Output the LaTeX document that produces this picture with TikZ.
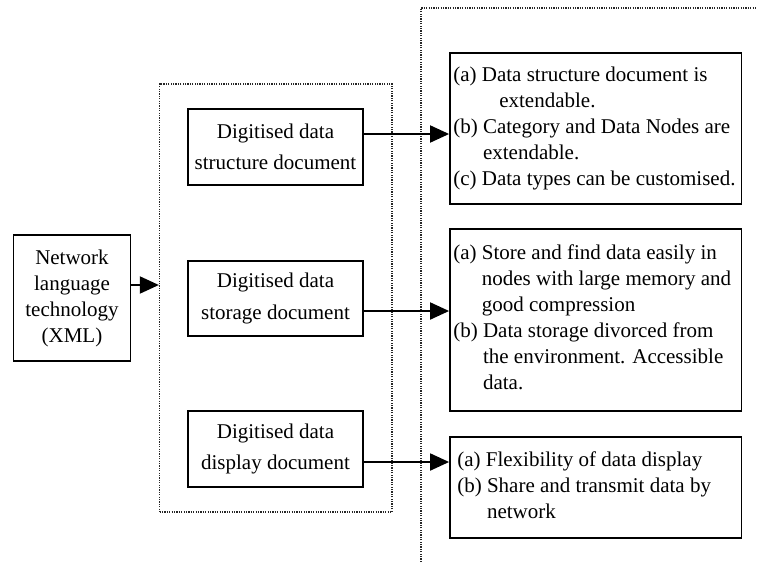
\documentclass[tikz,border=0pt]{standalone}
\usepackage{fontspec}
\setmainfont{Liberation Serif}
\usetikzlibrary{arrows.meta}

\tikzset{
  box/.style={draw=black, line width=1.8pt, inner sep=0pt},
  grpbox/.style={draw=black!85, line width=1.3pt, dash pattern=on 1.2pt off 1.2pt, inner sep=0pt},
  txt/.style={inner sep=0pt, align=center, font=\fontsize{21}{26}\selectfont},
  midtxt/.style={inner sep=0pt, align=center, font=\fontsize{21}{31.5}\selectfont},
  listtxt/.style={inner sep=0pt, align=left, anchor=west, font=\fontsize{21}{26}\selectfont},
  arr/.style={line width=1.9pt, -{Triangle[length=19pt,width=17pt]}},
}

\newcommand{\lbl}[1]{\phantom{#1}}

\begin{document}
\begin{tikzpicture}[x=1pt,y=-1pt]
  \useasboundingbox (0,0) rectangle (757,562);

  % source box
  \node[box, minimum width=117pt, minimum height=126pt] (xml) at (72,298) {};
  \node[txt] (xmltxt) at (xml.center) {Network\\language\\technology\\(XML)};

  % group of digitised documents
  \node[grpbox, minimum width=232.5pt, minimum height=428pt] (grp) at (275.75,298) {};

  \node[box, minimum width=175pt, minimum height=76pt] (m1) at (275.5,147) {};
  \node[midtxt] (m1txt) at (m1.center) {Digitised data\\structure document};
  \node[box, minimum width=175pt, minimum height=75pt] (m2) at (275.5,298.5) {};
  \node[midtxt] (m2txt) at (m2.center) {Digitised data\\storage document};
  \node[box, minimum width=175pt, minimum height=76pt] (m3) at (275.5,449) {};
  \node[midtxt] (m3txt) at (m3.center) {Digitised data\\display document};

  % right-hand dotted frame
  \coordinate (fb) at (421,562);
  \coordinate (fc) at (421,8);
  \coordinate (fr) at (757,8);
  \draw[grpbox] (fb) -- (fc) -- (fr);

  % feature boxes
  \node[box, minimum width=291.5pt, minimum height=151pt] (r1) at (595.75,128.5) {};
  \node[listtxt] (r1txt) at ([xshift=4pt]r1.west) {%
    (a) Data structure document is\\
    \hspace*{46pt}extendable.\\
    (b) Category and Data Nodes are\\
    \lbl{(b) }extendable.\\
    (c) Data types can be customised.};

  \node[box, minimum width=291.5pt, minimum height=182pt] (r2) at (595.75,320) {};
  \node[listtxt] (r2txt) at ([xshift=4pt,yshift=1pt]r2.west) {%
    (a) Store and find data easily in\\
    \lbl{(a) }nodes with large memory and\\
    \lbl{(a) }good compression\\
    (b) Data storage divorced from\\
    \lbl{(b) }the environment. Accessible\\
    \lbl{(b) }data.};

  \node[box, minimum width=291.5pt, minimum height=101pt] (r3) at (595.75,487.5) {};
  \node[listtxt] (r3txt) at ([xshift=8pt]r3.west) {%
    (a) Flexibility of data display\\
    (b) Share and transmit data by\\
    \lbl{(b) }network};

  % connectors
  \draw[arr] ([yshift=13pt]xml.east) -- ([yshift=13pt]xml.east -| grp.west);
  \draw[arr] ([yshift=13pt]m1.east) -- ([yshift=13pt]m1.east -| r1.west);
  \draw[arr] ([yshift=-12.5pt]m2.east) -- ([yshift=-12.5pt]m2.east -| r2.west);
  \draw[arr] ([yshift=-13pt]m3.east) -- ([yshift=-13pt]m3.east -| r3.west);
\end{tikzpicture}
\end{document}
